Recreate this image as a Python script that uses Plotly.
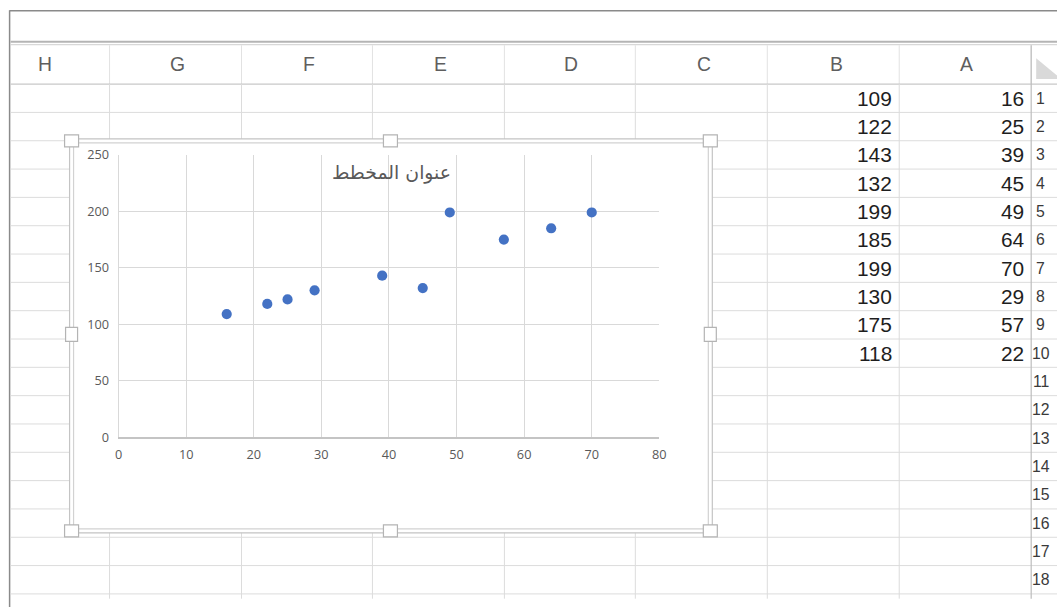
import plotly.graph_objects as go

W, H = 1057, 607

# ---- data ----
col_a = [16, 25, 39, 45, 49, 64, 70, 29, 57, 22]
col_b = [109, 122, 143, 132, 199, 185, 199, 130, 175, 118]
col_letters = ["H", "G", "F", "E", "D", "C", "B", "A"]
row_numbers = [str(i) for i in range(1, 19)]
chart_title = "عنوان المخطط"
x_ticks = [0, 10, 20, 30, 40, 50, 60, 70, 80]
y_ticks = [0, 50, 100, 150, 200, 250]

# calibration of the page as it is photographed (offset and scale)
OX, OY, SX, SY = 2.4, 7.7, 0.990, 0.973
FS = (SX + SY) / 2


def px(x):
    return ((x - OX) / SX) / W


def py(y):
    return 1 - ((y - OY) / SY) / H


def fs(s):
    return s / FS


shapes = []
annotations = []


def line(x0, y0, x1, y1, color, width=1):
    shapes.append(dict(type="line", xref="paper", yref="paper",
                       x0=px(x0), y0=py(y0), x1=px(x1), y1=py(y1),
                       line=dict(color=color, width=width), layer="below"))


def rect(x0, y0, x1, y1, fill, color, width=1):
    shapes.append(dict(type="rect", xref="paper", yref="paper",
                       x0=px(x0), y0=py(y0), x1=px(x1), y1=py(y1),
                       fillcolor=fill, line=dict(color=color, width=width),
                       layer="below"))


def text(x, y, s, size, color, xanchor="center", family="Liberation Sans, Arial, sans-serif"):
    annotations.append(dict(x=px(x), y=py(y), xref="paper", yref="paper",
                            text=s, showarrow=False, xanchor=xanchor, yanchor="middle",
                            font=dict(size=fs(size), color=color, family=family)))


# ---- spreadsheet frame ----
line(8, 8.5, 1060, 8.5, "#8a8a8a", 1.5)
line(8, 8, 8, 610, "#8a8a8a", 1.5)
line(9, 39.5, 1060, 39.5, "#b4b4b4", 2)
line(9, 42.5, 1060, 42.5, "#cfcfcf", 1)

col_edges = [108, 240, 371, 503, 634, 766, 898, 1030]
header_centers = [43, 176, 308, 439, 570, 703, 835, 965]
row_h = 28.4
row_top = 82

for x in col_edges:
    line(x, 43, x, row_top, "#e2e2e2", 1)
line(9, row_top, 1060, row_top, "#c8c8c8", 1.2)

for k in range(1, 19):
    y = row_top + k * row_h
    line(9, y, 1060, y, "#dcdcdc", 1)

for x in col_edges[:-1]:
    line(x, row_top, x, 598, "#dcdcdc", 1)
line(col_edges[-1], 43, col_edges[-1], 598, "#bdbdbd", 1.2)

# select-all corner triangle
shapes.append(dict(type="path", xref="paper", yref="paper",
                   path=f"M {px(1035)},{py(56)} L {px(1035)},{py(77)} L {px(1060)},{py(77)} Z",
                   fillcolor="#d9d9d9", line=dict(width=0), layer="below"))

for c, xc in zip(col_letters, header_centers):
    text(xc, 62, c, 19, "#5e5e5e")

# row header numbers, kept inside the visible part of the row-header column
for i, r in enumerate(row_numbers):
    text(1039.5, row_top + (i + 0.5) * row_h, r, 15.5, "#3a3a3a", xanchor="center")

for i, (a, b) in enumerate(zip(col_a, col_b)):
    yc = row_top + (i + 0.5) * row_h
    text(893, yc, str(b), 20.5, "#1e1e1e", xanchor="right")
    text(1025, yc, str(a), 20.5, "#1e1e1e", xanchor="right")

# ---- chart object frame with handles ----
rect(68, 137, 711, 532, "white", "#c4c4c4", 1.2)
rect(72, 141, 707, 528, "white", "#d2d2d2", 1.2)
for hx in (70, 389, 709):
    for hy in (139, 530):
        shapes.append(dict(type="rect", xref="paper", yref="paper",
                           x0=px(hx - 7), y0=py(hy - 6), x1=px(hx + 7), y1=py(hy + 6),
                           fillcolor="white", line=dict(color="#b4b4b4", width=1.2),
                           layer="below"))
for hx in (70, 709):
    hy = 333
    shapes.append(dict(type="rect", xref="paper", yref="paper",
                       x0=px(hx - 6), y0=py(hy - 7), x1=px(hx + 6), y1=py(hy + 7),
                       fillcolor="white", line=dict(color="#b4b4b4", width=1.2),
                       layer="below"))

text(390, 171, chart_title, 18.5, "#595959", family="DejaVu Sans, sans-serif")

# ---- scatter chart ----
fig = go.Figure()
fig.add_trace(go.Scatter(x=col_a, y=col_b, mode="markers",
                         marker=dict(color="#4472c4", size=fs(10), line=dict(width=0)),
                         showlegend=False, cliponaxis=False, hoverinfo="skip"))

tick_font = dict(family="Open Sans, sans-serif", size=fs(12.5), color="#595959")
fig.update_layout(
    width=W, height=H,
    margin=dict(l=0, r=0, t=0, b=0),
    paper_bgcolor="white",
    plot_bgcolor="rgba(0,0,0,0)",
    shapes=shapes,
    annotations=annotations,
    xaxis=dict(domain=[px(117), px(658)], range=[0, 80], tickvals=x_ticks,
               showgrid=True, gridcolor="#d9d9d9", gridwidth=1,
               zeroline=False, showline=True, linecolor="#c4c4c4", linewidth=1.5,
               ticks="", tickfont=tick_font, ticklabelstandoff=5, fixedrange=True),
    yaxis=dict(domain=[py(436), py(153)], range=[0, 250], tickvals=y_ticks,
               showgrid=True, gridcolor="#d9d9d9", gridwidth=1,
               zeroline=False, showline=True, linecolor="#d9d9d9", linewidth=1,
               ticks="", tickfont=tick_font, ticklabelstandoff=6, fixedrange=True),
)

fix_page = (
    "document.documentElement.style.margin='0';"
    "document.documentElement.style.padding='0';"
    "document.documentElement.style.overflow='hidden';"
    "document.body.style.margin='0';"
    "document.body.style.padding='0';"
    "document.body.style.overflow='hidden';"
    "var d=document.getElementById('{plot_id}');"
    "d.style.position='fixed';d.style.left='0px';d.style.top='0px';"
)

fig.write_html("out.html", config={"displayModeBar": False, "staticPlot": True},
               post_script=fix_page)
